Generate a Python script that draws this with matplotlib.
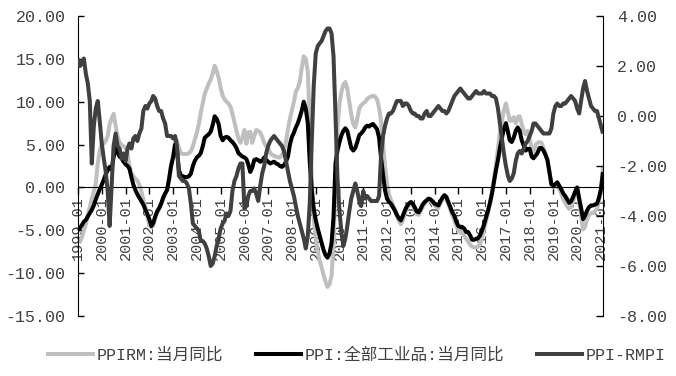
import pandas as pd
import matplotlib
matplotlib.use('Agg')
import matplotlib.pyplot as plt
from matplotlib.lines import Line2D


# =============================================================================
#                                    Data                                     #
# =============================================================================

months = pd.date_range('1999-01-01', '2021-02-01', freq='MS')

# PPI:全部工业品:当月同比 (left axis), one row per year
ppi = [
    -5.0, -4.7, -4.4, -4.0, -3.8, -3.4, -3.0, -2.6, -2.1, -1.4, -0.8, -0.2,
    0.3, 0.9, 1.5, 2.0, 2.4, 2.1, 3.5, 4.6, 4.1, 3.6, 3.4, 3.0,
    2.7, 2.5, 2.2, 1.2, 0.3, -0.3, -0.8, -1.2, -1.6, -2.0, -2.6, -3.1,
    -3.7, -4.5, -4.2, -3.4, -2.8, -2.4, -1.9, -1.2, -0.7, -0.3, 1.0, 2.5,
    3.5, 5.0, 4.5, 2.0, 1.4, 1.3, 1.2, 1.2, 1.3, 1.6, 2.5, 3.1,
    3.5, 3.7, 4.0, 4.8, 5.8, 6.0, 6.2, 6.5, 7.3, 8.3, 8.0, 7.4,
    6.0, 5.5, 5.8, 5.9, 5.8, 5.5, 5.3, 5.0, 4.6, 4.0, 3.8, 3.6,
    3.5, 3.3, 2.7, 1.8, 2.3, 3.2, 3.3, 3.2, 3.0, 3.1, 3.5, 3.2,
    3.0, 2.8, 2.9, 3.0, 2.8, 2.7, 2.5, 2.4, 2.6, 3.0, 3.6, 5.0,
    5.9, 6.4, 7.0, 7.5, 8.2, 9.0, 10.0, 9.2, 7.5, 3.0, -0.3, -2.5,
    -3.8, -4.8, -5.6, -6.5, -7.3, -7.9, -8.2, -7.7, -6.5, -3.5, 2.8, 4.3,
    5.3, 6.1, 6.6, 6.9, 6.6, 5.6, 4.6, 4.3, 4.6, 5.3, 6.1, 6.3,
    6.6, 7.0, 7.2, 7.1, 7.3, 7.4, 7.1, 6.8, 5.8, 3.5, 1.5, -0.3,
    -1.3, -1.7, -1.9, -2.3, -2.7, -3.2, -3.6, -3.85, -3.3, -2.7, -2.2, -1.9,
    -1.7, -1.9, -2.3, -2.8, -2.9, -2.5, -2.0, -1.7, -1.5, -1.3, -1.4, -1.6,
    -1.9, -2.0, -2.1, -1.6, -1.2, -0.9, -1.1, -1.7, -2.3, -2.9, -3.3, -4.0,
    -4.5, -4.6, -4.6, -4.8, -5.2, -5.2, -5.6, -6.1, -6.1, -6.0, -5.9, -5.6,
    -5.0, -4.3, -3.5, -2.7, -1.8, -0.7, 0.6, 2.0, 3.2, 4.6, 5.8, 6.8,
    7.5, 6.5, 5.5, 5.3, 5.8, 6.6, 7.0, 6.6, 5.5, 4.9, 4.3, 4.5,
    4.5, 3.6, 3.4, 3.7, 4.0, 4.6, 4.6, 4.3, 3.8, 3.2, 1.8, 0.4,
    0.2, 0.4, 0.6, 0.2, -0.2, -0.7, -1.0, -1.4, -1.8, -1.6, -1.1, -0.5,
    0.0, -1.3, -2.4, -3.7, -3.3, -2.7, -2.3, -2.1, -2.1, -2.0, -1.9, -1.2,
    -0.2, 1.8,
]

# PPIRM:当月同比 (left axis)
ppirm = [
    -6.2, -6.3, -5.8, -5.0, -4.3, -3.3, -2.3, -1.3, -0.5, 0.4, 2.8, 4.3,
    5.0, 5.1, 5.4, 6.0, 7.4, 8.0, 8.6, 7.2, 5.9, 5.2, 5.0, 4.8,
    4.6, 3.9, 2.6, 1.6, 1.3, 1.0, 0.8, 0.3, -0.5, -1.4, -2.3, -3.4,
    -4.4, -4.7, -4.4, -3.6, -3.0, -2.5, -2.0, -1.4, -0.8, -0.2, 1.0, 2.6,
    3.8, 5.3, 5.5, 4.6, 4.0, 3.9, 3.9, 3.9, 4.0, 4.2, 4.8, 5.6,
    6.4, 7.4, 8.7, 9.8, 10.9, 11.5, 12.1, 12.6, 13.3, 14.2, 13.6, 12.8,
    11.6, 10.7, 10.3, 10.0, 9.8, 9.4, 8.6, 7.6, 6.6, 5.7, 5.2, 5.8,
    6.7, 5.1, 6.4, 6.5, 5.2, 6.0, 6.7, 6.6, 6.4, 5.9, 5.2, 4.8,
    4.6, 4.0, 3.8, 3.7, 3.6, 3.5, 3.5, 3.8, 4.3, 5.3, 6.8, 8.0,
    9.0, 10.0, 11.2, 11.6, 12.3, 14.0, 15.3, 15.0, 13.5, 8.0, 1.0, -3.5,
    -6.0, -7.4, -8.5, -9.3, -10.2, -11.0, -11.6, -11.3, -10.3, -6.8, 0.5, 7.0,
    9.8, 11.2, 12.0, 12.3, 11.5, 10.0, 8.5, 7.4, 7.0, 8.0, 9.2, 9.6,
    9.8, 10.0, 10.3, 10.5, 10.6, 10.7, 10.6, 10.3, 9.3, 7.8, 5.0, 2.5,
    0.5, -0.8, -1.5, -2.0, -2.6, -3.3, -3.9, -4.3, -3.8, -3.0, -2.5, -2.1,
    -1.9, -2.1, -2.6, -3.1, -3.2, -2.8, -2.3, -1.9, -1.6, -1.5, -1.6, -1.8,
    -2.1, -2.3, -2.4, -1.9, -1.4, -1.2, -1.4, -2.0, -2.6, -3.3, -3.8, -4.5,
    -5.0, -5.2, -5.3, -5.6, -6.0, -6.3, -6.7, -6.9, -7.0, -7.0, -6.9, -6.6,
    -5.8, -4.9, -4.0, -3.0, -1.8, -0.6, 1.0, 2.6, 4.5, 6.4, 7.8, 9.0,
    9.8, 8.8, 7.8, 7.8, 8.2, 7.5, 8.2, 8.3, 7.4, 6.6, 6.2, 6.6,
    5.7, 4.5, 4.2, 4.9, 5.2, 5.3, 5.2, 4.6, 4.0, 3.3, 1.8, 0.2,
    0.0, 0.1, 0.3, -0.2, -0.7, -1.4, -1.8, -2.2, -2.5, -2.3, -1.6, -0.8,
    -0.2, -1.7, -3.3, -4.9, -4.6, -3.7, -3.2, -3.0, -3.0, -2.8, -2.5, -1.6,
    -0.3, 2.4,
]

# PPI-RMPI (right axis)
ppi_rmpi = [
    2.3, 2.0, 2.1, 2.3, 1.7, 1.3, 0.6, -1.9, -0.4, 0.3, 0.6, -0.2,
    -1.1, -1.7, -2.2, -3.0, -4.4, -2.8, -1.2, -0.7, -1.2, -1.3, -1.7, -1.5,
    -1.8, -1.3, -1.1, -1.3, -0.9, -0.8, -1.0, -0.7, -0.5, 0.2, 0.4, 0.3,
    0.5, 0.6, 0.8, 0.7, 0.4, 0.2, 0.2, -0.1, -0.3, -0.8, -0.8, -0.8,
    -0.9, -0.8, -1.2, -2.4, -2.5, -2.6, -2.6, -2.7, -2.9, -3.5, -4.3, -4.4,
    -4.5, -4.6, -5.0, -5.0, -5.1, -5.3, -5.6, -6.0, -5.9, -5.6, -5.2, -4.9,
    -4.5, -4.3, -4.2, -3.9, -4.0, -3.8, -3.0, -2.6, -2.4, -2.1, -1.9, -1.9,
    -3.7, -3.6, -3.2, -3.0, -3.0, -2.9, -3.1, -3.4, -2.8, -2.3, -2.0, -1.5,
    -1.2, -1.0, -0.9, -0.8, -0.9, -1.0, -1.1, -1.2, -1.4, -1.8, -2.2, -2.6,
    -2.9, -3.2, -3.6, -4.0, -4.3, -4.6, -4.9, -5.3, -4.8, -3.5, -1.0, 1.2,
    2.5, 2.8, 2.9, 3.0, 3.2, 3.4, 3.5, 3.5, 3.3, 2.4, 0.0, -2.5,
    -3.8, -4.7, -5.2, -4.9, -4.4, -3.8, -3.3, -3.0, -2.7, -3.0, -3.4, -3.6,
    -3.0, -3.3, -3.2, -3.3, -3.4, -3.4, -3.4, -3.4, -3.2, -1.6, -0.8, -0.4,
    -0.1, 0.1, 0.1, 0.2, 0.4, 0.6, 0.6, 0.6, 0.4, 0.5, 0.5, 0.4,
    0.2, 0.1, 0.1, 0.0, 0.0, -0.1, -0.1, 0.1, 0.2, 0.0, 0.0, 0.1,
    0.2, 0.3, 0.4, 0.3, 0.2, 0.2, 0.1, 0.2, 0.4, 0.6, 0.8, 0.9,
    1.0, 1.1, 1.0, 0.9, 0.8, 0.7, 0.7, 0.8, 0.9, 1.0, 0.9, 0.9,
    0.9, 1.0, 0.9, 0.9, 0.9, 0.8, 0.8, 0.7, 0.3, -0.3, -0.9, -1.5,
    -2.0, -2.4, -2.6, -2.5, -2.3, -1.8, -1.5, -1.4, -1.5, -1.3, -1.1, -1.0,
    -0.8, -0.6, -0.3, -0.3, -0.4, -0.5, -0.6, -0.7, -0.7, -0.7, -0.7, -0.5,
    0.1, 0.4, 0.5, 0.4, 0.4, 0.5, 0.5, 0.6, 0.7, 0.8, 0.7, 0.6,
    0.3, 0.1, 0.6, 1.1, 1.4, 1.0, 0.7, 0.4, 0.3, 0.2, 0.2, -0.1,
    -0.4, -0.7,
]

labels = ['PPIRM:当月同比', 'PPI:全部工业品:当月同比', 'PPI-RMPI']
tick_dates = pd.date_range('1999-01-01', '2021-01-01', freq='YS')

# =============================================================================
#                                   Styling                                   #
# =============================================================================

_GREY = '#bfbfbf'
_BLACK = '#000000'
_DARK = '#404040'
_TEXT = '#404040'
_FONT = ['Liberation Mono', 'Noto Sans CJK SC']

plt.rcParams['font.family'] = _FONT

fig = plt.figure(figsize=(6.76, 3.76), dpi=100)
ax = fig.add_axes([78 / 676, 60 / 376, 525 / 676, 300 / 376])
ax2 = ax.twinx()

ax.plot(months, ppirm, color=_GREY, lw=2.9, solid_capstyle='butt')
ax.plot(months, ppi, color=_BLACK, lw=2.9, solid_capstyle='butt')
ax2.plot(months, ppi_rmpi, color=_DARK, lw=2.9, solid_capstyle='butt')

ax.set_xlim(months[0], months[-1])
ax.set_ylim(-15, 20)
ax2.set_ylim(-8, 4)
ax.set_yticks(range(-15, 21, 5))
ax2.set_yticks(range(-8, 5, 2))
ax.set_yticklabels(['%.2f' % v for v in range(-15, 21, 5)])
ax2.set_yticklabels(['%.2f' % v for v in range(-8, 5, 2)])

# The category axis crosses the left axis at zero
ax.spines['bottom'].set_position(('data', 0))
ax.spines['top'].set_visible(False)
ax.spines['right'].set_visible(False)
for side in ['left', 'top', 'bottom']:
    ax2.spines[side].set_visible(False)

ax.set_xticks(tick_dates)
ax.set_xticklabels([d.strftime('%Y-%m') for d in tick_dates], rotation=90,
                   ha='center', va='top')
ax.tick_params(axis='x', direction='out', length=5, width=1, pad=1.5,
               labelsize=11, labelcolor=_TEXT)
ax.tick_params(axis='y', direction='in', length=4, width=1, pad=9,
               labelsize=12, labelcolor=_TEXT)
ax2.tick_params(axis='y', direction='in', length=5, width=1, pad=10,
                labelsize=12, labelcolor=_TEXT)

handles = [Line2D([], [], color=c, lw=2.9) for c in (_GREY, _BLACK, _DARK)]
fig.legend(handles, labels, loc='center left', bbox_to_anchor=(48 / 676, 1 - 355 / 376),
           ncol=3, frameon=False, borderpad=0, borderaxespad=0, handlelength=2.7,
           handletextpad=0.2, columnspacing=2.0,
           prop={'family': _FONT, 'size': 12}, labelcolor=_TEXT)

plt.savefig('out.png', dpi=100)
